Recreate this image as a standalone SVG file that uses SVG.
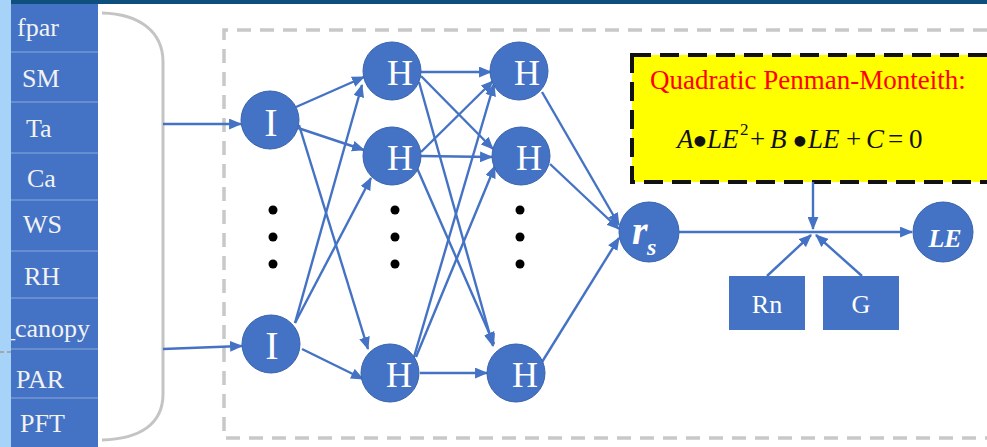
<svg xmlns="http://www.w3.org/2000/svg" width="987" height="447" viewBox="0 0 987 447">
<style>
.cell{fill:#4472c4;}
.sep{stroke:#8eaadb;stroke-width:1.2;}
.ct{font-family:"Liberation Serif","Times New Roman",serif;font-size:26px;fill:#f2f2f2;}
.nd{fill:#4472c4;stroke:#3a63ad;stroke-width:1;}
.nl{font-family:"Liberation Serif","Times New Roman",serif;fill:#ffffff;text-anchor:middle;}
.e{stroke:#4472c4;stroke-width:2.4;fill:none;marker-end:url(#ah);}
.dot{fill:#000000;}
.bul{font-size:45px;font-style:normal;}
</style>
<defs>
<marker id="ah" viewBox="0 0 12 10" refX="11" refY="5" markerWidth="13" markerHeight="11" markerUnits="userSpaceOnUse" orient="auto">
<path d="M0,0 L12,5 L0,10 z" fill="#4472c4"/>
</marker>
<clipPath id="cc"><rect x="11" y="298" width="87" height="51"/></clipPath>
</defs>
<rect x="0" y="0" width="987" height="447" fill="#ffffff"/>
<!-- left input column -->
<g id="inputs">
<rect x="0" y="0" width="11" height="447" fill="#a7d3f8"/>
<rect x="11" y="0" width="976" height="4" fill="#0e4f7d"/>
<rect class="cell" x="11" y="4" width="87" height="443"/>
<line class="sep" x1="11" y1="52" x2="98" y2="52"/>
<line class="sep" x1="11" y1="102" x2="98" y2="102"/>
<line class="sep" x1="11" y1="153" x2="98" y2="153"/>
<line class="sep" x1="11" y1="200" x2="98" y2="200"/>
<line class="sep" x1="11" y1="251" x2="98" y2="251"/>
<line class="sep" x1="11" y1="298" x2="98" y2="298"/>
<line class="sep" x1="11" y1="349" x2="98" y2="349"/>
<line class="sep" x1="11" y1="398" x2="98" y2="398"/>
<text class="ct" x="17" y="36">fpar</text>
<text class="ct" x="22" y="87">SM</text>
<text class="ct" x="26" y="137">Ta</text>
<text class="ct" x="27" y="187">Ca</text>
<text class="ct" x="23" y="233">WS</text>
<text class="ct" x="24" y="285">RH</text>
<text class="ct" x="2" y="337" clip-path="url(#cc)">_canopy</text>
<text class="ct" x="16" y="388">PAR</text>
<text class="ct" x="20" y="432">PFT</text>
<line x1="0" y1="352" x2="11" y2="352" stroke="#9a9a9a" stroke-width="1.5" stroke-dasharray="4 3"/>
</g>
<!-- bracket and container -->
<path d="M102,13 C140,14 163,32 163,62 L163,394 C163,424 140,439 102,440" fill="none" stroke="#c4c4c4" stroke-width="3"/>
<path d="M987,30 L224,30 L224,438 L987,438" fill="none" stroke="#c8c8c8" stroke-width="3.5" stroke-dasharray="14 9"/>
<!-- formula box -->
<g id="formula">
<rect x="632" y="55" width="400" height="127" fill="#ffff00" stroke="#111111" stroke-width="4" stroke-dasharray="19 9"/>
<text x="650" y="89" font-family="'Liberation Serif','Times New Roman',serif" font-size="27" fill="#ff0000">Quadratic Penman-Monteith:</text>
<text y="148" font-family="'Liberation Serif','Times New Roman',serif" font-size="27" fill="#111111"><tspan x="677" font-style="italic">A</tspan><tspan class="bul" x="692" y="156">•</tspan><tspan x="707" y="148" font-style="italic">LE</tspan><tspan x="740" y="135" font-size="17">2</tspan><tspan x="750" y="148">+</tspan><tspan x="770" font-style="italic">B</tspan><tspan class="bul" x="792" y="156">•</tspan><tspan x="808" y="148" font-style="italic">LE</tspan><tspan x="846">+</tspan><tspan x="866" font-style="italic">C</tspan><tspan x="888">=</tspan><tspan x="909">0</tspan></text>
</g>
<!-- connectors -->
<g id="connectors">
<line class="e" x1="163" y1="124" x2="241" y2="124"/>
<line class="e" x1="163" y1="349" x2="242" y2="346"/>
<line class="e" x1="296" y1="107" x2="364" y2="77"/>
<line class="e" x1="298" y1="128" x2="364" y2="150"/>
<line class="e" x1="299" y1="125" x2="368" y2="349"/>
<line class="e" x1="295" y1="323" x2="362" y2="85"/>
<line class="e" x1="295" y1="323" x2="371" y2="178"/>
<line class="e" x1="302" y1="349" x2="363" y2="379"/>
<line class="e" x1="421" y1="72" x2="491" y2="72"/>
<line class="e" x1="421" y1="76" x2="493" y2="149"/>
<line class="e" x1="419" y1="82" x2="493" y2="346"/>
<line class="e" x1="421" y1="152" x2="493" y2="81"/>
<line class="e" x1="421" y1="156" x2="492" y2="157"/>
<line class="e" x1="417" y1="168" x2="494" y2="344"/>
<line class="e" x1="414" y1="357" x2="494" y2="84"/>
<line class="e" x1="416" y1="357" x2="495" y2="166"/>
<line class="e" x1="420" y1="373" x2="487" y2="373"/>
<line class="e" x1="542" y1="92" x2="619" y2="225"/>
<line class="e" x1="550" y1="164" x2="619" y2="229"/>
<line class="e" x1="542" y1="362" x2="619" y2="238"/>
<line class="e" x1="679" y1="232" x2="912" y2="232"/>
<line class="e" x1="813" y1="182" x2="813" y2="229"/>
<line class="e" x1="767" y1="276" x2="811" y2="235"/>
<line class="e" x1="862" y1="276" x2="816" y2="235"/>
</g>
<!-- network nodes -->
<g id="I1"><circle class="nd" cx="270" cy="120" r="29"/><text class="nl" x="271" y="136" font-size="40">I</text></g>
<g id="I2"><circle class="nd" cx="271" cy="344" r="29"/><text class="nl" x="272" y="359" font-size="40">I</text></g>
<g id="H1"><circle class="nd" cx="392" cy="71" r="29"/><text class="nl" x="400" y="85" font-size="36">H</text></g>
<g id="H2"><circle class="nd" cx="392" cy="156" r="29"/><text class="nl" x="400" y="170" font-size="36">H</text></g>
<g id="H3"><circle class="nd" cx="390" cy="373" r="29"/><text class="nl" x="399" y="387" font-size="36">H</text></g>
<g id="H4"><circle class="nd" cx="519" cy="71" r="29"/><text class="nl" x="527" y="85" font-size="36">H</text></g>
<g id="H5"><circle class="nd" cx="521" cy="156" r="29"/><text class="nl" x="529" y="170" font-size="36">H</text></g>
<g id="H6"><circle class="nd" cx="516" cy="373" r="29"/><text class="nl" x="525" y="387" font-size="36">H</text></g>
<g id="dots">
<circle class="dot" cx="273" cy="210" r="4.5"/><circle class="dot" cx="273" cy="237" r="4.5"/><circle class="dot" cx="273" cy="264" r="4.5"/>
<circle class="dot" cx="395" cy="210" r="4.5"/><circle class="dot" cx="395" cy="237" r="4.5"/><circle class="dot" cx="395" cy="264" r="4.5"/>
<circle class="dot" cx="520" cy="210" r="4.5"/><circle class="dot" cx="520" cy="237" r="4.5"/><circle class="dot" cx="520" cy="264" r="4.5"/>
</g>
<g id="rs"><circle class="nd" cx="649" cy="232" r="30"/><text x="632" y="244" font-family="'Liberation Serif','Times New Roman',serif" font-size="40" font-weight="bold" font-style="italic" fill="#ffffff">r<tspan x="647" y="255" font-size="24">s</tspan></text></g>
<g id="LE"><circle class="nd" cx="943" cy="232" r="30"/><text class="nl" x="945" y="247" font-size="26" font-weight="bold" font-style="italic">LE</text></g>
<g id="Rn"><rect x="729" y="276" width="76" height="54" fill="#4472c4"/><text class="nl" x="767" y="313" font-size="26">Rn</text></g>
<g id="G"><rect x="823" y="276" width="76" height="54" fill="#4472c4"/><text class="nl" x="861" y="313" font-size="26">G</text></g>
</svg>
